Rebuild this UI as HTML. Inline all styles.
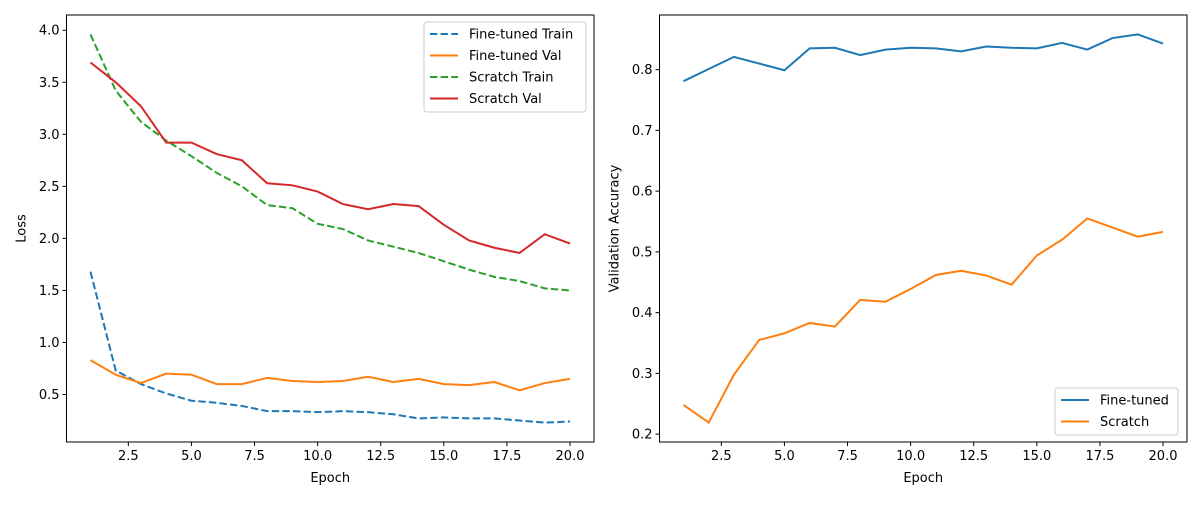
<!DOCTYPE html>
<html><head><meta charset="utf-8"><style>
body{margin:0;background:#fff}
svg{font-family:"DejaVu Sans","Liberation Sans",sans-serif;font-size:13px}
</style></head><body>
<svg id="c" width="1200" height="500" xmlns="http://www.w3.org/2000/svg"></svg>
<script>
const epochs=[1,2,3,4,5,6,7,8,9,10,11,12,13,14,15,16,17,18,19,20];
const ftTrain=[1.68,0.73,0.60,0.51,0.44,0.42,0.39,0.34,0.34,0.33,0.34,0.33,0.31,0.27,0.28,0.27,0.27,0.25,0.23,0.24];
const ftVal=[0.83,0.69,0.61,0.70,0.69,0.60,0.60,0.66,0.63,0.62,0.63,0.67,0.62,0.65,0.60,0.59,0.62,0.54,0.61,0.65];
const scTrain=[3.96,3.42,3.12,2.94,2.79,2.63,2.50,2.32,2.29,2.14,2.09,1.98,1.92,1.86,1.78,1.70,1.63,1.59,1.52,1.50];
const scVal=[3.69,3.50,3.27,2.92,2.92,2.81,2.75,2.53,2.51,2.45,2.33,2.28,2.33,2.31,2.13,1.98,1.91,1.86,2.04,1.95];
const ftAcc=[0.781,0.801,0.821,0.810,0.799,0.835,0.836,0.824,0.833,0.836,0.835,0.830,0.838,0.836,0.835,0.844,0.833,0.852,0.858,0.843];
const scAcc=[0.248,0.219,0.298,0.355,0.366,0.383,0.377,0.421,0.418,0.439,0.462,0.469,0.461,0.446,0.494,0.520,0.555,0.540,0.525,0.533];
const xTicks=[2.5,5.0,7.5,10.0,12.5,15.0,17.5,20.0];
const lossTicks=[0.5,1.0,1.5,2.0,2.5,3.0,3.5,4.0];
const accTicks=[0.2,0.3,0.4,0.5,0.6,0.7,0.8];

const svg=document.getElementById('c');
const NS='http://www.w3.org/2000/svg';
function el(t,a,txt){const e=document.createElementNS(NS,t);for(const k in a)e.setAttribute(k,a[k]);if(txt!==undefined)e.textContent=txt;svg.appendChild(e);return e;}
function ext(arrs){let mn=Infinity,mx=-Infinity;arrs.forEach(a=>a.forEach(v=>{mn=Math.min(mn,v);mx=Math.max(mx,v);}));const m=(mx-mn)*0.05;return [mn-m,mx+m];}

function panel(L,R,T,B,series,yTicks,yLabel,yDec,prefix){
  const [x0,x1]=ext([epochs]);const [y0,y1]=ext(series.map(s=>s.d));
  const sx=v=>L+(v-x0)/(x1-x0)*(R-L), sy=v=>B-(v-y0)/(y1-y0)*(B-T);
  series.forEach(s=>{
    const p=el('polyline',{points:s.d.map((v,i)=>sx(epochs[i])+','+sy(v)).join(' '),fill:'none',stroke:s.c,'stroke-width':2,'stroke-dasharray':s.dash?'7.4,3.2':'none'});
    
    
  });
  const f=el('rect',{x:L,y:T,width:R-L,height:B-T,fill:'none',stroke:'#000','stroke-width':1});
  
  
  xTicks.forEach(t=>{const x=sx(t);el('line',{x1:x,x2:x,y1:B,y2:B+4,stroke:'#000'});
    const tx=el('text',{x:x,y:B+18,'text-anchor':'middle'},t.toFixed(1));
    
    });
  yTicks.forEach(t=>{const y=sy(t);el('line',{x1:L-4,x2:L,y1:y,y2:y,stroke:'#000'});
    const tx=el('text',{x:L-7,y:y+4.5,'text-anchor':'end'},t.toFixed(1));
    
    });
  const xl=el('text',{x:(L+R)/2,y:482,'text-anchor':'middle'},'Epoch');
  
  
  const cy=(T+B)/2;
  const yl=el('text',{x:L-yDec,y:cy,'text-anchor':'middle',transform:`rotate(-90 ${L-yDec} ${cy})`},yLabel);
  
  
}
function legend(x,y,w,series,prefix){
  const h=series.length*21.5+4;
  const r=el('rect',{x:x,y:y,width:w,height:h,rx:3,fill:'#fff','fill-opacity':0.8,stroke:'#ccc'});
  
  
  series.forEach((s,i)=>{const yy=y+12+i*21.5;
    el('line',{x1:x+6,x2:x+34,y1:yy,y2:yy,stroke:s.c,'stroke-width':2,'stroke-dasharray':s.dash?'7.4,3.2':'none'});
    const t=el('text',{x:x+45,y:yy+4.5},s.n);
    
    });
}
const lossS=[{n:'Fine-tuned Train',d:ftTrain,c:'#1f77b4',dash:1},{n:'Fine-tuned Val',d:ftVal,c:'#ff7f0e'},{n:'Scratch Train',d:scTrain,c:'#2ca02c',dash:1},{n:'Scratch Val',d:scVal,c:'#d62728'}];
panel(66.5,594,15,442,lossS,lossTicks,'Loss',41,'loss');
legend(424,22,162,lossS,'loss');
const accS=[{n:'Fine-tuned',d:ftAcc,c:'#1f77b4'},{n:'Scratch',d:scAcc,c:'#ff7f0e'}];
panel(659.5,1187,15,442,accS,accTicks,'Validation Accuracy',41,'acc');
legend(1055,388,123,accS,'acc');
</script>
</body></html>
